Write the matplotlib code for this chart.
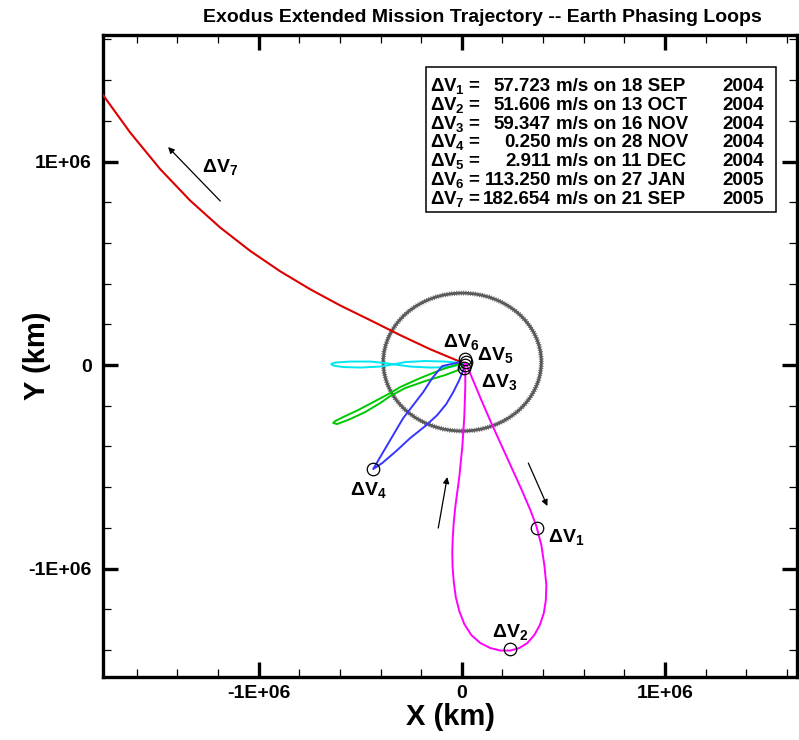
import matplotlib
matplotlib.use('Agg')
import matplotlib.pyplot as plt
import numpy as np
from matplotlib.patches import Ellipse, Rectangle
from matplotlib.ticker import MultipleLocator

plt.rcParams['font.family'] = 'Liberation Sans'
plt.rcParams['font.weight'] = 'bold'
plt.rcParams['mathtext.fontset'] = 'custom'
plt.rcParams['mathtext.rm'] = 'Liberation Sans:bold'
plt.rcParams['mathtext.it'] = 'Liberation Sans:bold'
plt.rcParams['mathtext.bf'] = 'Liberation Sans:bold'

# trajectory legs, x/y in 1000 km
red_x = [-1790.6, -1632.9, -1485.2, -1337.4, -1189.6, -1041.8, -894.1, -746.3,
         -598.5, -450.7, -302.9, -155.2, 2.5]
red_y = [1361.2, 1143.5, 963.6, 808.8, 676.2, 561.2, 460.9, 372.5,
         292.9, 220.6, 146.9, 77.6, 11.8]

cyan_x = [2.5, -81.3, -179.8, -278.3, -327.6, -401.5, -500.0, -583.7, -633.0, -642.8,
          -623.1, -549.2, -450.7, -376.8, -327.6, -253.7, -155.2, -56.6, 2.5]
cyan_y = [9.8, 17.2, 19.7, 14.7, 4.9, -7.4, -12.3, -9.8, -2.5, 4.9,
          12.3, 17.2, 17.2, 9.8, 2.5, -7.4, -12.3, -9.8, 4.9]

green_x = [-2.5, -105.9, -204.4, -303.0, -352.2, -426.1, -509.8, -583.7, -623.1, -633.0,
           -613.3, -549.2, -475.4, -401.5, -352.2, -278.3, -179.8, -81.3, -17.2, 7.4]
green_y = [9.8, -24.6, -63.9, -108.1, -137.6, -176.9, -221.1, -255.5, -275.2, -285.0,
           -289.9, -265.4, -231.0, -186.7, -152.3, -113.0, -78.6, -49.1, -24.6, -4.9]

blue_x = [-7.4, -96.1, -145.3, -189.7, -238.9, -288.2, -352.2, -401.5, -436.0,
          -391.6, -322.7, -253.7, -179.8, -120.7, -76.4, -41.9, -12.3, 7.4, 12.3]
blue_y = [14.7, -4.9, -63.9, -132.7, -196.6, -260.4, -368.6, -452.1, -511.1,
          -481.6, -422.6, -358.7, -299.8, -245.7, -191.6, -132.7, -73.7, -24.6, 4.9]

mag_x = [22.2, 46.8, 96.1, 145.3, 194.6, 243.8, 293.1, 337.4, 367.0, 391.6, 406.4,
         416.3, 413.8, 403.9, 384.2, 357.1, 322.7, 283.3, 238.9, 189.7, 140.4, 91.1,
         46.8, 12.3, -12.3, -29.6, -39.4, -45.3, -46.8, -44.3, -39.4, -32.0, -22.2,
         -12.3, -4.9, 2.5, 7.4, 12.3, 14.8, 17.2, 17.2, 12.3]
mag_y = [4.9, -54.1, -172.0, -285.0, -393.1, -501.2, -609.3, -712.5, -791.2, -884.5, -982.8,
         -1081.1, -1154.8, -1218.7, -1277.6, -1326.8, -1366.1, -1390.7, -1403.0, -1403.0, -1390.7, -1366.1,
         -1326.8, -1272.8, -1208.9, -1140.1, -1066.3, -992.6, -918.9, -845.2, -771.5, -697.8, -624.1,
         -550.4, -476.7, -402.9, -329.2, -255.5, -181.8, -108.1, -34.4, 4.9]

# lunar orbit
moon_center = (2.5, 14.7)
moon_rx, moon_ry = 389.0, 339.0

# burn points
burn_x = [371.9, 238.9, -436.0, 17.2, 22.2, 17.2, 12.3]
burn_y = [-801.0, -1395.6, -511.1, 29.5, 14.7, 0.0, -14.7]

# direction arrows (tail -> head)
arrow_tail = [(-1188.5, 805.9), (327.6, -481.6), (-115.8, -801.0)]
arrow_head = [(-1445.7, 1071.3), (421.2, -692.9), (-71.4, -550.4)]

# burn labels
dv_label_num = [7, 6, 5, 3, 4, 1, 2]
dv_label_xy = [(-1278.3, 948.4), (-91.1, 88.5), (76.4, 24.6), (94.8, -108.1),
               (-549.2, -638.8), (426.1, -869.8), (150.2, -1336.6)]

# burn table
dv_num = [1, 2, 3, 4, 5, 6, 7]
dv_mag = [57.723, 51.606, 59.347, 0.250, 2.911, 113.250, 182.654]
dv_date = ['18 SEP', '13 OCT', '16 NOV', '28 NOV', '11 DEC', '27 JAN', '21 SEP']
dv_year = [2004, 2004, 2004, 2004, 2004, 2005, 2005]

k = 1e3

fig = plt.figure(figsize=(7.99, 7.40), dpi=100)
ax = fig.add_axes([103/799, 1-677/740, 694/799, 642/740])

# moon orbit: solid core plus a fine dash pass for the rough edge
moon_xy = (moon_center[0]*k, moon_center[1]*k)
ax.add_patch(Ellipse(moon_xy, 2*moon_rx*k, 2*moon_ry*k,
                     fill=False, edgecolor='#555555', lw=2.0, zorder=1))
ax.add_patch(Ellipse(moon_xy, 2*moon_rx*k, 2*moon_ry*k,
                     fill=False, edgecolor='#626262', lw=3.5,
                     linestyle=(0, (0.18, 0.3)), zorder=1))

ax.plot(np.array(red_x)*k, np.array(red_y)*k, color='#dc0000', lw=1.5, zorder=3)
ax.plot(np.array(cyan_x)*k, np.array(cyan_y)*k, color='#00e6f0', lw=1.4, zorder=3)
ax.plot(np.array(green_x)*k, np.array(green_y)*k, color='#00c800', lw=1.4, zorder=3)
ax.plot(np.array(blue_x)*k, np.array(blue_y)*k, color='#3535ff', lw=1.4, zorder=3)
ax.plot(np.array(mag_x)*k, np.array(mag_y)*k, color='#ff00ff', lw=1.4, zorder=3)

ax.plot(np.array(burn_x)*k, np.array(burn_y)*k, 'o', mfc='none', mec='black',
        ms=9, mew=0.9, zorder=4)

for (tx, ty), (hx, hy) in zip(arrow_tail, arrow_head):
    ax.annotate('', xy=(hx*k, hy*k), xytext=(tx*k, ty*k),
                arrowprops=dict(arrowstyle='-|>', color='black', lw=0.9,
                                mutation_scale=9, shrinkA=0, shrinkB=0))

for n, (lx, ly) in zip(dv_label_num, dv_label_xy):
    ax.text(lx*k, ly*k, r'$\Delta V_{%d}$' % n, fontsize=14,
            ha='left', va='baseline', zorder=5)

ax.set_xlim(-1.766e6, 1.650e6)
ax.set_ylim(-1.533e6, 1.622e6)

ax.set_xticks([-1e6, 0, 1e6])
ax.set_xticklabels(['-1E+06', '0', '1E+06'])
ax.set_yticks([-1e6, 0, 1e6])
ax.set_yticklabels(['-1E+06', '0', '1E+06'])
ax.xaxis.set_minor_locator(MultipleLocator(2e5))
ax.yaxis.set_minor_locator(MultipleLocator(2e5))
ax.tick_params(which='major', direction='in', length=11, width=2.4,
               top=True, right=True, labelsize=14)
ax.tick_params(which='minor', direction='in', length=6, width=0.9,
               top=True, right=True)
ax.tick_params(axis='x', pad=6)
ax.tick_params(axis='y', pad=8)
for s in ax.spines.values():
    s.set_linewidth(2.4)

ax.text(0.5, -0.0623, 'X (km)', transform=ax.transAxes, fontsize=21,
        ha='center', va='center')
ax.text(-0.095, 0.5, 'Y (km)', transform=ax.transAxes, fontsize=21,
        rotation=90, ha='center', va='center')

fig.text(0.6033, 0.9757, 'Exodus Extended Mission Trajectory -- Earth Phasing Loops',
         fontsize=14, ha='center', va='center')

# burn table box
ax.add_patch(Rectangle((0.4654, 0.7243), 0.9697-0.4654, 0.9502-0.7243,
                       transform=ax.transAxes, facecolor='white',
                       edgecolor='black', lw=1.1, zorder=6))
for i in range(len(dv_num)):
    yb = 0.9128 - 0.02928*i
    kw = dict(transform=ax.transAxes, fontsize=13.5, va='baseline', zorder=7)
    ax.text(0.4712, yb, r'$\Delta V_{%d}$ =' % dv_num[i], ha='left', **kw)
    ax.text(0.6455, yb, '%.3f' % dv_mag[i], ha='right', **kw)
    ax.text(0.6527, yb, 'm/s on %s' % dv_date[i], ha='left', **kw)
    ax.text(0.9524, yb, '%d' % dv_year[i], ha='right', **kw)

fig.savefig('out.png', dpi=100)
